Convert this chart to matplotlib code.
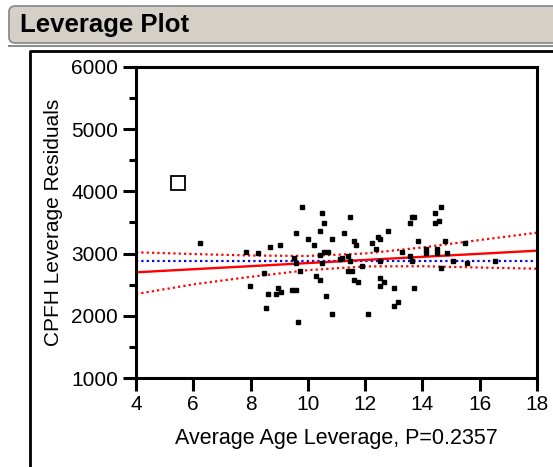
import numpy as np
import matplotlib.pyplot as plt
from matplotlib.patches import FancyBboxPatch
from matplotlib.lines import Line2D
from matplotlib.ticker import MultipleLocator

plt.rcParams['font.family'] = ['Liberation Sans', 'DejaVu Sans']

# leverage residual points
age_lev = [6.23, 7.84, 8.27, 7.98, 8.47, 8.69, 9.04, 8.61, 8.97, 9.05,
           8.90, 8.54, 9.46, 9.60, 9.52, 9.60, 9.74, 9.67, 9.60, 9.81,
           10.02, 10.23, 10.30, 10.44, 10.64, 10.50, 10.57, 10.44, 10.44, 10.57,
           10.71, 10.50, 10.86, 10.86, 11.27, 11.48, 11.62, 11.69, 11.41, 11.20,
           11.13, 11.48, 11.41, 11.55, 11.62, 11.76, 11.90, 12.11, 12.25, 12.46,
           12.53, 12.39, 12.53, 12.53, 12.67, 12.53, 12.81, 13.02, 13.16, 13.02,
           13.30, 13.58, 13.65, 13.58, 13.65, 13.72, 13.72, 13.86, 14.14, 14.14,
           14.43, 14.43, 14.57, 14.64, 14.50, 14.50, 14.78, 14.85, 14.64, 15.06,
           15.48, 15.55, 16.52]
cpfh_res = [3166, 3031, 3005, 2484, 2683, 3100, 3133, 2354, 2452, 2388,
            2354, 2130, 2420, 2420, 2934, 2843, 2714, 1905, 3326, 3744,
            3230, 3133, 2645, 2580, 2323, 3648, 3487, 3358, 2972, 3031,
            3031, 2843, 3230, 2034, 3326, 3584, 3198, 3133, 2966, 2934,
            2918, 2875, 2714, 2714, 2580, 2548, 2805, 2034, 3166, 3262,
            3230, 3068, 2875, 2612, 2548, 2484, 3358, 2452, 2227, 2162,
            3031, 2966, 2875, 3487, 3584, 3584, 2452, 3198, 3068, 3005,
            3648, 3487, 3519, 3744, 3068, 3005, 3198, 3005, 2773, 2875,
            3166, 2843, 2875]

# excluded point
excl_x = [5.47]
excl_y = [4135]

# fit line and confidence curves
curve_x = [4, 6, 8, 10, 12, 14, 16, 18]
fit_y = [2699, 2749, 2798, 2848, 2898, 2948, 2997, 3047]
upper_y = [3021, 2993, 2969, 2962, 3002, 3099, 3218, 3336]
lower_y = [2350, 2505, 2627, 2734, 2794, 2797, 2776, 2757]
mean_y = 2888

W, H = 553, 467
fig = plt.figure(figsize=(W / 100, H / 100), dpi=100)

def fx(px):
    return px / W

def fy(py):
    return 1 - py / H

# title bar and outline box
bar = FancyBboxPatch((fx(9), fy(43)), fx(600), fy(6) - fy(43),
                     boxstyle="round,pad=0,rounding_size=0.012",
                     transform=fig.transFigure, facecolor='#d4d0c8',
                     edgecolor='#8c8c8c', linewidth=1.3)
fig.add_artist(bar)
fig.add_artist(Line2D([fx(9), 1], [fy(45.5), fy(45.5)], transform=fig.transFigure,
                      color='#8c8c8c', lw=1.5))
fig.text(fx(20), fy(25), "Leverage Plot", fontsize=18.5, fontweight='bold',
         va='center', ha='left')
fig.add_artist(Line2D([fx(30), fx(30), 1], [0, fy(51), fy(51)],
                      transform=fig.transFigure, color='black', lw=2))

ax = fig.add_axes([fx(136), fy(378), fx(537) - fx(136), fy(67) - fy(378)])

ax.plot(curve_x, upper_y, color='red', lw=1.6, linestyle=(0, (1, 1.4)))
ax.plot(curve_x, lower_y, color='red', lw=1.6, linestyle=(0, (1, 1.4)))
ax.axhline(mean_y, color='blue', lw=1.6, linestyle=(0, (1, 1.4)))
ax.plot(curve_x, fit_y, color='red', lw=1.7)
ax.plot(age_lev, cpfh_res, 's', color='black', ms=2.9)
ax.plot(excl_x, excl_y, 's', mfc='none', mec='black', mew=1.3, ms=10)

ax.set_xlim(4, 18)
ax.set_ylim(1000, 6000)
ax.xaxis.set_major_locator(MultipleLocator(2))
ax.yaxis.set_major_locator(MultipleLocator(1000))
ax.yaxis.set_minor_locator(MultipleLocator(500))

for s in ax.spines.values():
    s.set_linewidth(2.2)
ax.tick_params(which='major', length=9.5, width=2.2, labelsize=15, pad=3)
ax.tick_params(which='minor', length=5, width=2.2)
ax.tick_params(axis='y', pad=3.5)

ax.set_xlabel("Average Age Leverage, P=0.2357", fontsize=15.5, labelpad=10)
ax.set_ylabel("CPFH Leverage Residuals", fontsize=15, labelpad=6)

fig.savefig("out.png", dpi=100)
